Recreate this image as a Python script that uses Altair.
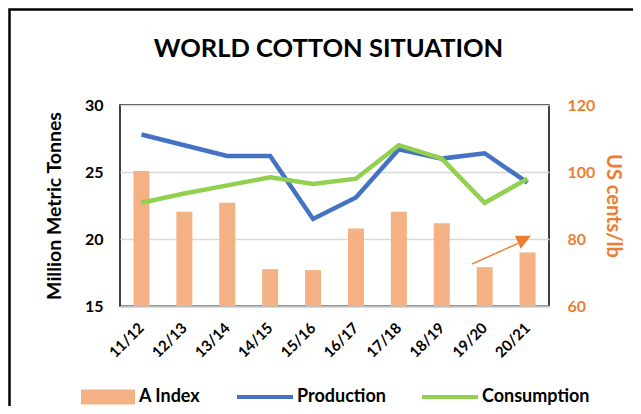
import altair as alt
import pandas as pd

# ---- data ----
seasons = ["11/12", "12/13", "13/14", "14/15", "15/16", "16/17", "17/18", "18/19", "19/20", "20/21"]
production = [27.8, 27.0, 26.2, 26.2, 21.5, 23.1, 26.7, 26.0, 26.4, 24.2]   # million metric tonnes
consumption = [22.7, 23.4, 24.0, 24.6, 24.1, 24.5, 27.0, 26.0, 22.7, 24.5]  # million metric tonnes
a_index = [100.3, 88.1, 90.8, 71.0, 70.7, 83.1, 88.1, 84.7, 71.6, 76.0]     # US cents/lb
title_text = ["WORLD COTTON SITUATION"]

# annotation arrow (x in category-band units, y in US cents/lb)
arrow_x = [8.2, 9.28]
arrow_y = [72.5, 78.7]
arrow_head_x = [9.37]
arrow_head_y = [79.6]

FONT = "Lato"
ORANGE = "#ED7D31"
W, H = 429, 201

bar_df = pd.DataFrame({"season": seasons, "value": a_index, "series": "A Index"})
line_df = pd.DataFrame(
    {"season": seasons * 2,
     "value": production + consumption,
     "series": ["Production"] * len(seasons) + ["Consumption"] * len(seasons)}
)
arrow_df = pd.DataFrame({"ax": arrow_x, "ay": arrow_y})
head_df = pd.DataFrame({"ax": arrow_head_x, "ay": arrow_head_y})

x_scale = alt.Scale(domain=seasons, paddingInner=0, paddingOuter=0)

bars = alt.Chart(bar_df).mark_bar(size=16).encode(
    x=alt.X("season:N", sort=seasons, scale=x_scale,
            axis=alt.Axis(title=None, labelAngle=-45, labelAlign="right",
                          labelBaseline="middle", labelFont=FONT, labelFontSize=15,
                          labelFontWeight="bold", labelColor="black", ticks=False, tickSize=0,
                          labelPadding=19, domainColor="#bfbfbf", domainWidth=2)),
    y=alt.Y("value:Q", scale=alt.Scale(domain=[60, 120], zero=False, nice=False),
            axis=alt.Axis(orient="right", values=[60, 80, 100, 120], title="US cents/lb",
                          grid=False, domain=False, ticks=False, tickSize=0, labelPadding=18,
                          labelFont=FONT, labelFontSize=16, labelFontWeight="bold",
                          labelColor=ORANGE, titleFont=FONT, titleFontSize=20,
                          titleFontWeight="bold", titleColor=ORANGE, titlePadding=8)),
    y2=alt.datum(60),
    color=alt.Color("series:N", scale=alt.Scale(domain=["A Index"], range=["#F4B183"]),
                    legend=alt.Legend(title=None, orient="none", legendX=-39, legendY=265,
                                      symbolType="M-1,-0.2778H1V0.2778H-1Z", symbolSize=2916,
                                      symbolStrokeWidth=0, symbolOpacity=1, padding=0,
                                      labelFont=FONT, labelFontSize=18, labelFontWeight="bold",
                                      labelColor="black", labelOffset=4)),
)

lines = alt.Chart(line_df).mark_line(strokeWidth=4.5).encode(
    x=alt.X("season:N", sort=seasons, scale=x_scale, axis=None),
    y=alt.Y("value:Q", scale=alt.Scale(domain=[15, 30], nice=False, zero=False),
            axis=alt.Axis(orient="left", values=[15, 20, 25, 30], title="Million Metric Tonnes",
                          grid=True, gridColor="#d9d9d9", gridWidth=1.5, domain=False,
                          ticks=False, tickSize=0, labelPadding=17, labelFont=FONT,
                          labelFontSize=16, labelFontWeight="bold", labelColor="black",
                          titleFont=FONT, titleFontSize=19.5, titleFontWeight="bold",
                          titleColor="black", titlePadding=20)),
    color=alt.Color("series:N",
                    scale=alt.Scale(domain=["Production", "Consumption"],
                                    range=["#4472C4", "#92D050"]),
                    legend=alt.Legend(title=None, orient="none", legendX=115, legendY=262,
                                      direction="horizontal", symbolType="stroke",
                                      symbolSize=3136, symbolStrokeWidth=4, padding=0,
                                      columnPadding=28, labelFont=FONT, labelFontSize=18,
                                      labelFontWeight="bold", labelColor="black",
                                      labelOffset=2)),
)

arrow_line = alt.Chart(arrow_df).mark_line(color=ORANGE, strokeWidth=1.5).encode(
    x=alt.X("ax:Q", scale=alt.Scale(domain=[0, 10], nice=False), axis=None),
    y=alt.Y("ay:Q", scale=alt.Scale(domain=[60, 120], nice=False, zero=False), axis=None),
)

arrow_head = alt.Chart(head_df).mark_point(
    shape="M-0.875,-0.5625L1.125,-0.5625L-0.1625,1.0625Z", size=256, filled=True,
    color=ORANGE, opacity=1, strokeWidth=0,
).encode(
    x=alt.X("ax:Q", scale=alt.Scale(domain=[0, 10], nice=False), axis=None),
    y=alt.Y("ay:Q", scale=alt.Scale(domain=[60, 120], nice=False, zero=False), axis=None),
)

title = alt.Chart(pd.DataFrame({"t": title_text})).mark_text(
    font=FONT, fontSize=25.5, fontWeight="bold", color="black", align="center",
    baseline="alphabetic"
).encode(text="t:N", x=alt.value(208.5), y=alt.value(-48))

frame = alt.Chart(pd.DataFrame({"k": [0]})).mark_rect(
    fillOpacity=0, stroke="black", strokeWidth=2.5
).encode(x=alt.value(-110.5), x2=alt.value(800), y=alt.value(-95.5), y2=alt.value(600))

chart = alt.layer(bars, lines, arrow_line, arrow_head, title, frame).resolve_scale(
    x="independent", y="independent", color="independent"
).properties(
    width=W, height=H,
    autosize=alt.AutoSizeParams(type="none"),
    padding={"left": 112, "top": 97, "right": 84, "bottom": 100},
).configure(background="white").configure_view(stroke="black", strokeWidth=1.5)

chart.save("out.html", embed_options={"renderer": "svg", "actions": False})
